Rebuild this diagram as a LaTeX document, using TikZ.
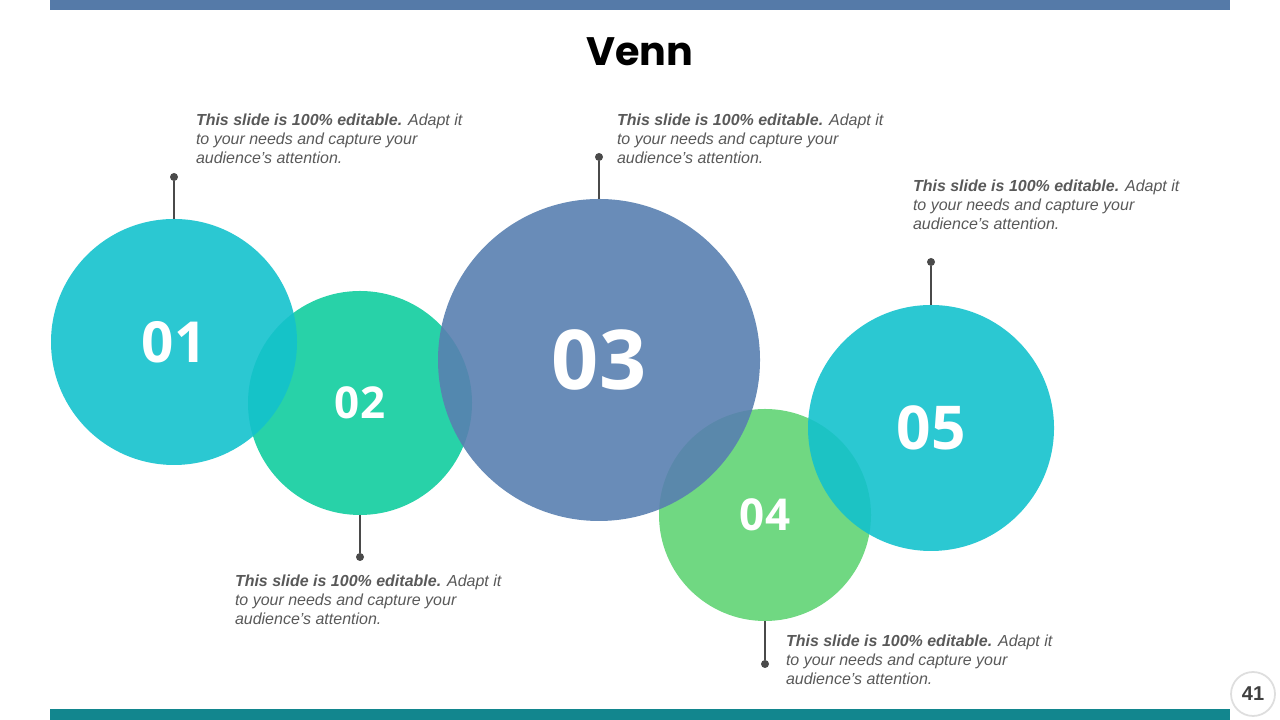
\documentclass[tikz,border=0pt]{standalone}
\usepackage{fontspec}
\setmainfont{Liberation Sans}
\newfontfamily\numfont{Open Sans}
\newfontfamily\headfont{Poppins}
\definecolor{vnbar}{HTML}{557AA8}
\definecolor{vnfoot}{HTML}{12868E}
\definecolor{vncyan}{HTML}{14C2CD}
\definecolor{vnmint}{HTML}{11CD9E}
\definecolor{vnblue}{HTML}{5980B0}
\definecolor{vngreen}{HTML}{60D474}
\definecolor{vnpin}{HTML}{4A4A4A}
\definecolor{vntext}{HTML}{595959}
\newcommand{\vnblurb}{\textbf{This slide is 100\% editable.} Adapt it\\
  to your needs and capture your\\audience’s attention.}

\begin{document}
\begin{tikzpicture}[
  x=1cm, y=1cm,
  every node/.style={inner sep=0pt, outer sep=0pt},
  disc/.style={circle, fill opacity=0.9, text opacity=1, text=white},
  num/.style={font=\numfont\bfseries\fontsize{#1}{#1}\selectfont},
  pinline/.style={draw=vnpin, line width=0.6pt},
  pindot/.style={circle, fill=vnpin, minimum size=0.08cm},
  blurb/.style={font=\fontsize{4.55}{5.4}\selectfont\itshape, text=vntext,
                align=left, anchor=north west},
]
\useasboundingbox (0,0) rectangle (12.8,7.2);

% ---------- frame ----------
\fill[vnbar]  (0.50,7.10) rectangle (12.30,7.20);
\fill[vnfoot] (0.50,0)    rectangle (12.30,0.11);
\node[font=\headfont\bfseries\fontsize{11.3}{12}\selectfont] (title) at (6.40,6.68) {Venn};
\node[circle, draw=black!13, line width=0.5pt, fill=white, minimum size=0.44cm,
      font=\bfseries\fontsize{5.7}{6}\selectfont, text=black!75] (page) at (12.53,0.26) {41};

% ---------- circles (drawn 2, 4 first so 1, 3, 5 lie on top) ----------
\foreach \n/\x/\y/\d/\c/\s in {2/3.60/3.17/2.24/vnmint/12.5,
                               4/7.65/2.05/2.12/vngreen/12.5,
                               1/1.74/3.78/2.46/vncyan/16.1,
                               3/5.99/3.60/3.22/vnblue/23.5,
                               5/9.31/2.92/2.46/vncyan/17.2}{
  \node[disc, fill=\c, minimum size=\d cm, num=\s] (c\n) at (\x,\y) {0\n};
}

% ---------- pins ----------
\foreach \n/\a/\x/\y in {1/north/1.74/5.43, 2/south/3.60/1.63,
                         3/north/5.99/5.63, 4/south/7.65/0.56,
                         5/north/9.31/4.58}{
  \node[pindot] (d\n) at (\x,\y) {};
  \draw[pinline] (c\n.\a) -- (d\n);
}

% ---------- texts ----------
\node[blurb] (t1) at (1.96,6.06) {\vnblurb};
\node[blurb] (t2) at (2.35,1.45) {\vnblurb};
\node[blurb] (t3) at (6.17,6.06) {\vnblurb};
\node[blurb] (t4) at (9.13,5.40) {\vnblurb};
\node[blurb] (t5) at (7.86,0.85) {\vnblurb};

\end{tikzpicture}
\end{document}
